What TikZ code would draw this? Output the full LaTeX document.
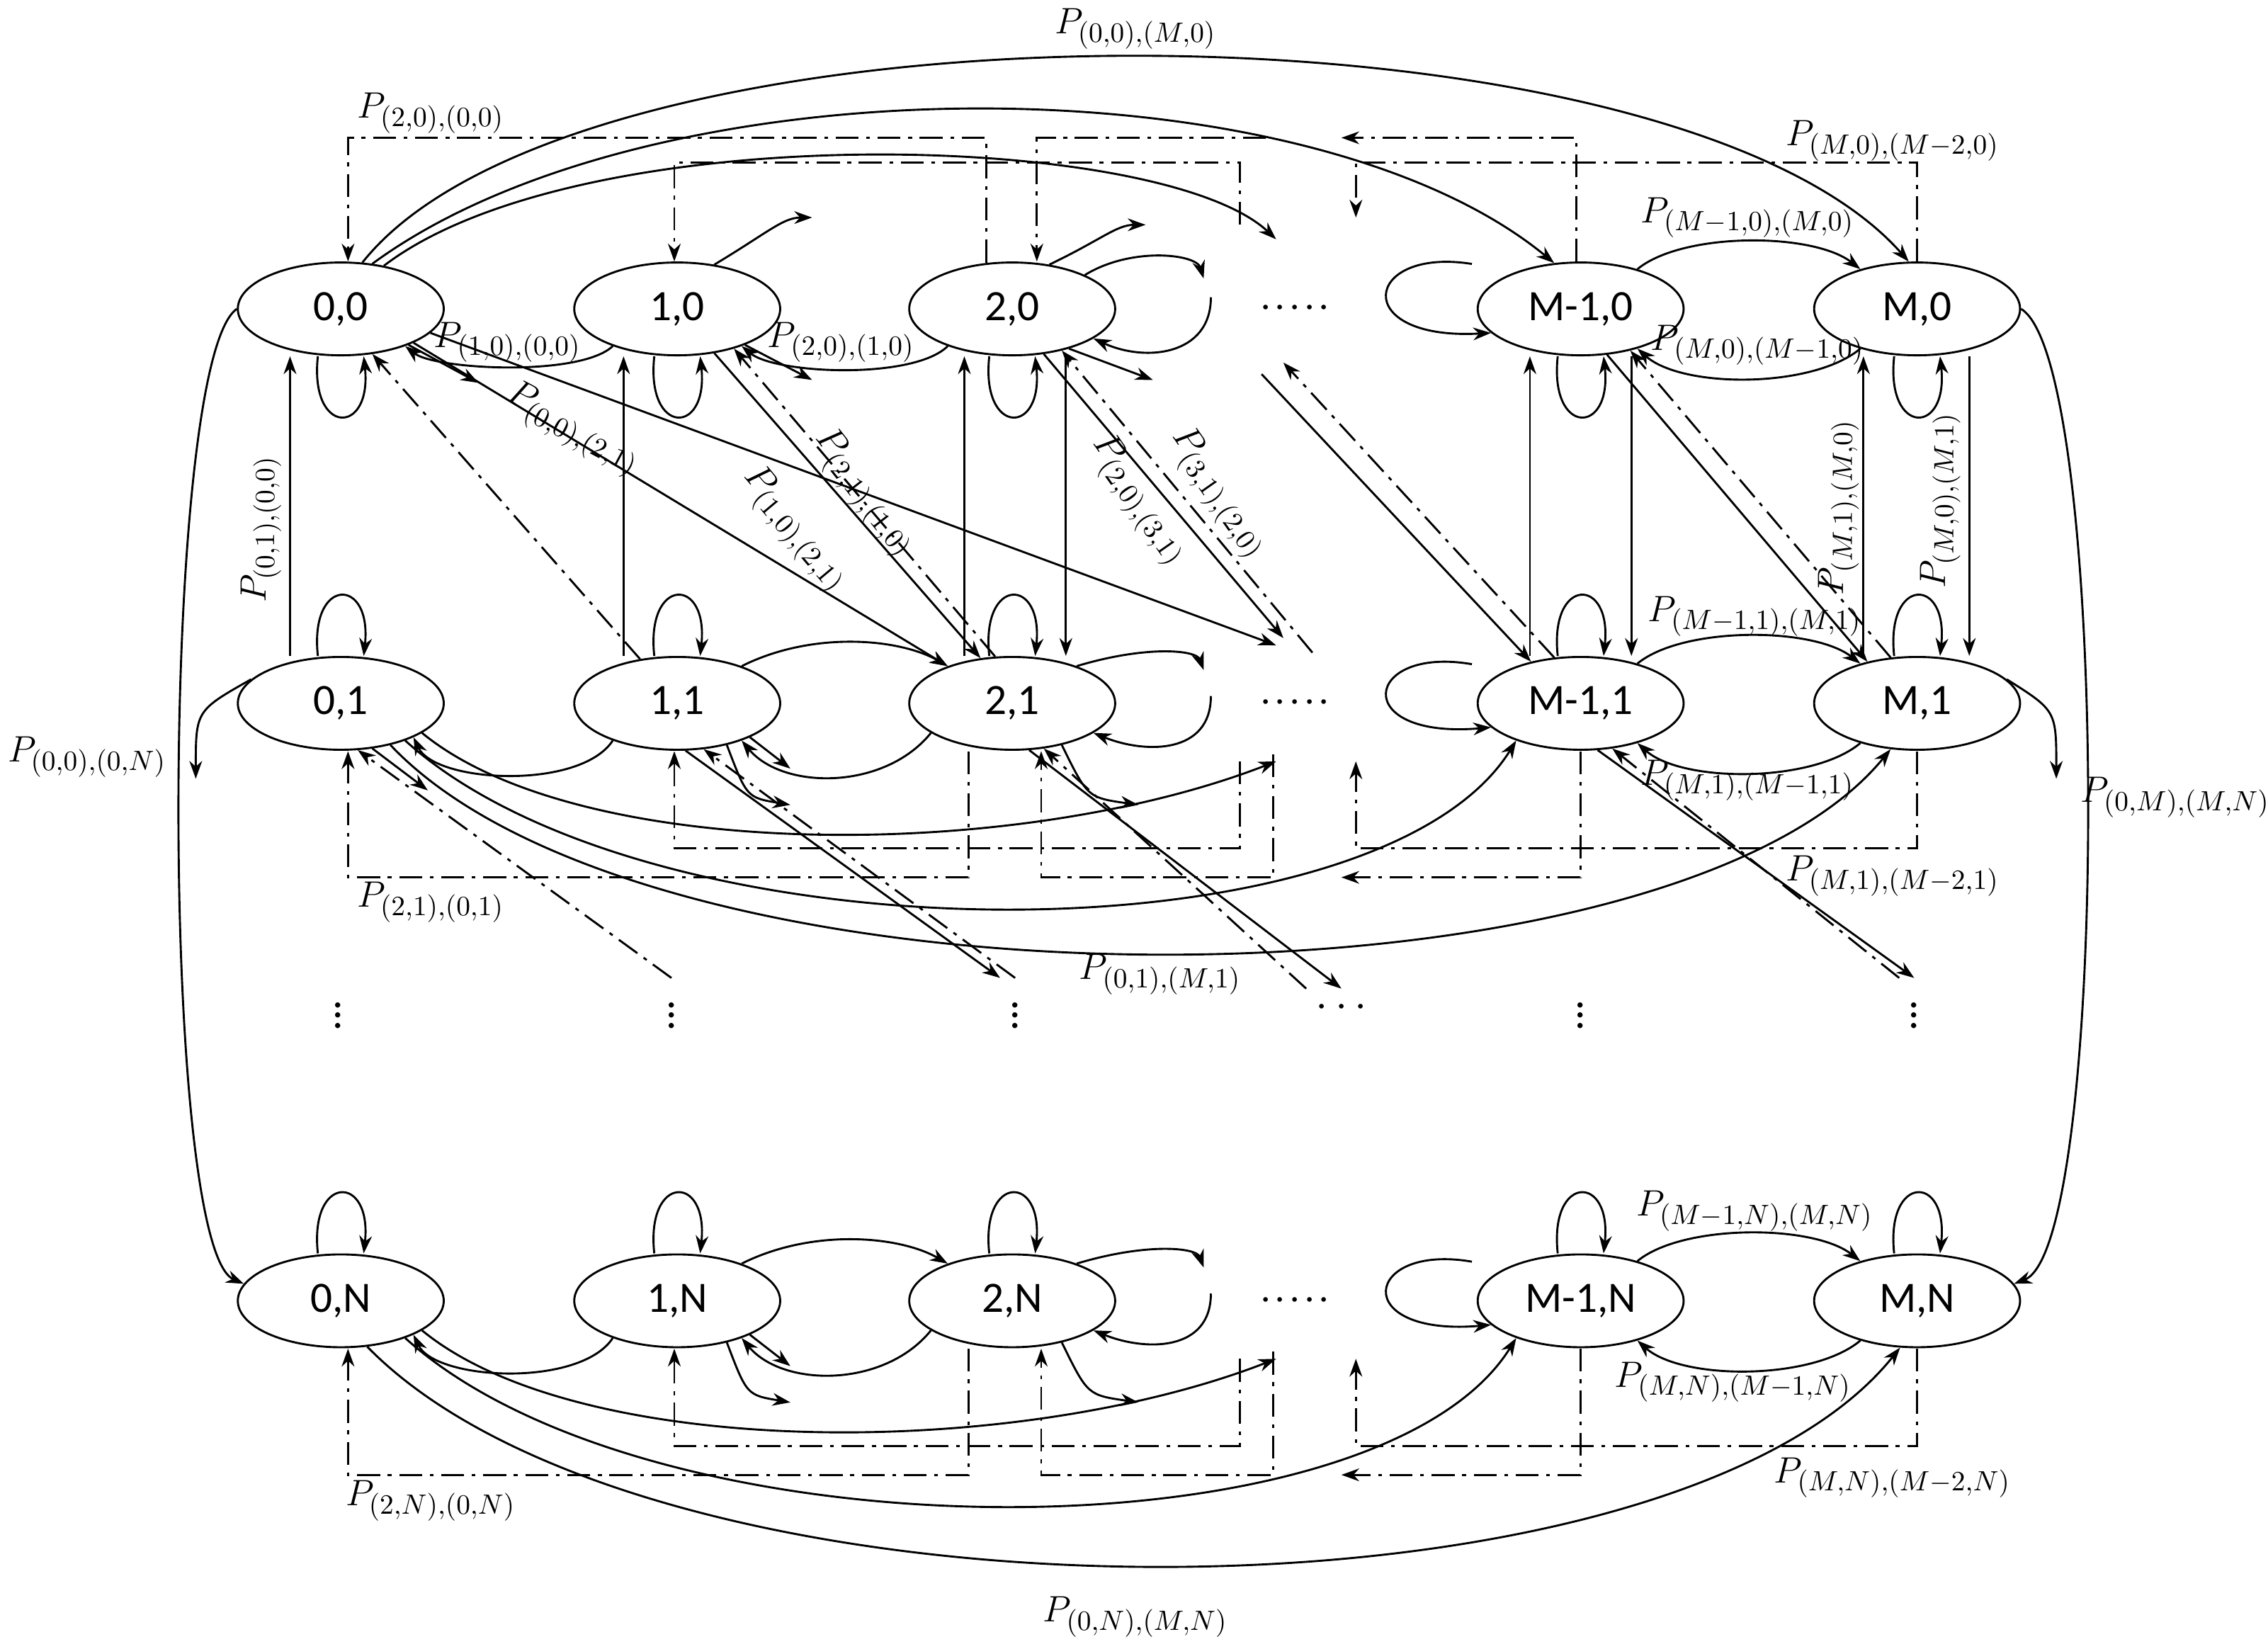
\documentclass[tikz,border=0pt]{standalone}
\usepackage{fontspec}
\setmainfont{Carlito}
\usetikzlibrary{arrows.meta,shapes.geometric}
\begin{document}
\begin{tikzpicture}[x=0.2mm,y=-0.2mm,>={Stealth[length=7pt,width=5pt]},line width=0.8pt,
 st/.style={draw,ellipse,minimum width=28.4mm,minimum height=12.8mm,inner sep=0pt,font=\fontsize{17}{19}\selectfont},
 dd/.style={dash pattern=on 9pt off 3pt on 1.5pt off 3pt},
 lb/.style={font=\fontsize{15}{17}\selectfont,inner sep=1pt},
 dt/.style={font=\fontsize{17}{19}\selectfont}]
\useasboundingbox (0,0) rectangle (1564,1137);
% nodes
\foreach \r/\y in {0/213,1/485,N/897}{
 \node[st] (n0\r) at (235,\y) {0,\r};
 \node[st] (n1\r) at (467,\y) {1,\r};
 \node[st] (n2\r) at (698,\y) {2,\r};
 \node[st] (nA\r) at (1090,\y) {M-1,\r};
 \node[st] (nB\r) at (1322,\y) {M,\r};
 \node[dt] (hd\r) at (893,\y) {$\cdot\!\cdot\!\cdot\!\cdot\!\cdot$};
}
\foreach \x/\n in {233/a,463/b,700/c,1090/d,1320/e}{\node[dt] (vd\n) at (\x,695) {$\vdots$};}
\node[dt] (vdf) at (925,695) {$\cdots$};
% self loops
\foreach \n in {n00,n10,n20,nA0,nB0}{
 \draw[->] ([xshift=-9pt]\n.south) .. controls +(-6,55) and +(6,55) .. ([xshift=9pt]\n.south);}
\foreach \n in {n01,n11,n21,nA1,nB1,n0N,n1N,n2N,nAN,nBN}{
 \draw[->] ([xshift=-9pt]\n.north) .. controls +(-6,-55) and +(6,-55) .. ([xshift=9pt]\n.north);}
% big arcs
\draw[->] (n00.65) .. controls (400,-8) and (1150,-8) .. (nB0.100);
\node[lb] (l1) at (783,20) {$P_{(0,0),(M,0)}$};
\draw[->] (n00.55) .. controls (450,40) and (900,40) .. (nA0.120);
\coordinate (t1) at (880,165);
\draw[->] (n00.45) .. controls (400,80) and (800,90) .. (t1);
\draw[->] (n00.180) .. controls (110,250) and (110,860) .. (n0N.170);
\node[lb] (l2) at (60,522) {$P_{(0,0),(0,N)}$};
\draw[->] (nB0.0) .. controls (1455,250) and (1455,860) .. (nBN.10);
\node[lb] (l3) at (1500,550) {$P_{(0,M),(M,N)}$};
\draw[->] (n0N.-60) .. controls (450,1130) and (1150,1130) .. (nBN.-110);
\node[lb] (l4) at (783,1115) {$P_{(0,N),(M,N)}$};
% row 0 neighbour arcs
\draw[->] (n10.-150) .. controls (400,260) and (300,255) .. (n00.-30);
\node[lb] (l5) at (350,236) {$P_{(1,0),(0,0)}$};
\draw[->] (n20.-150) .. controls (630,262) and (535,258) .. (n10.-30);
\node[lb] (l6) at (580,236) {$P_{(2,0),(1,0)}$};
\draw[->] (nA0.35) .. controls (1160,160) and (1250,160) .. (nB0.145);
\node[lb] (l7) at (1205,150) {$P_{(M-1,0),(M,0)}$};
\draw[->] (nB0.-145) .. controls (1250,268) and (1160,268) .. (nA0.-35);
\node[lb] (l8) at (1212,238) {$P_{(M,0),(M-1,0)}$};
\coordinate (a1) at (330,264); \draw[->] (n00.-28) -- (a1);
\coordinate (a2) at (560,262); \draw[->] (n10.-28) -- (a2);
\coordinate (a3) at (560,150); \draw[->] (n10.50) .. controls (530,160) and (540,150) .. (a3);
\coordinate (a4) at (790,155); \draw[->] (n20.50) .. controls (760,165) and (770,155) .. (a4);
\coordinate (a5) at (830,192); \draw[->] (n20.25) .. controls (780,170) and (825,175) .. (a5);
\coordinate (a6) at (835,205); \draw[->] (a6) .. controls (835,245) and (790,250) .. (n20.-20);
\coordinate (a7) at (795,262); \draw[->] (n20.-35) -- (a7);
\coordinate (a8) at (1015,182); \draw[->] (a8) .. controls (940,170) and (930,235) .. (nA0.-165);
% row 0 dash-dot
\draw[dd,->] (680,181) -- (680,95) -- (240,95) -- (n00.north -| 240,0);
\node[lb] (l9) at (297,78) {$P_{(2,0),(0,0)}$};
\draw[dd,->] (855,155) -- (855,112) -- (465,112) -- (n10.north -| 465,0);
\draw[dd,->] (873,95) -- (715,95) -- (n20.north -| 715,0);
\coordinate (d1) at (925,95); \draw[dd,->] (nA0.north -| 1087,0) -- (1087,95) -- (d1);
\coordinate (d2) at (935,150); \draw[dd,->] (nB0.north) -- (1322,112) -- (935,112) -- (d2);
\node[lb] (l10) at (1305,97) {$P_{(M,0),(M-2,0)}$};
% row0-row1 verticals
\draw[->] (n01.north -| 200,0) -- (n00.south -| 200,0);
\node[lb,rotate=90] (l11) at (180,365) {$P_{(0,1),(0,0)}$};
\draw[->] (n11.north -| 430,0) -- (n10.south -| 430,0);
\draw[->] (n21.north -| 665,0) -- (n20.south -| 665,0);
\draw[->] (n20.south -| 735,0) -- (n21.north -| 735,0);
\draw[->] (nA1.north -| 1055,0) -- (nA0.south -| 1055,0);
\draw[->] (nA0.south -| 1125,0) -- (nA1.north -| 1125,0);
\draw[->] (nB1.north -| 1285,0) -- (nB0.south -| 1285,0);
\node[lb,rotate=90] (l12) at (1268,350) {$P_{(M,1),(M,0)}$};
\draw[->] (nB0.south -| 1358,0) -- (nB1.north -| 1358,0);
\node[lb,rotate=90] (l13) at (1338,345) {$P_{(M,0),(M,1)}$};
% row0-row1 diagonals
\draw[->] (n00.-25) -- (n21.150);
\node[lb,rotate=-28] (l14) at (395,296) {$P_{(0,0),(2,1)}$};
\coordinate (t2) at (880,445); \draw[->] (n00.-15) -- (t2);
\draw[dd,->] (n11.130) -- (n00.-55);
\draw[->] (n10.-50) -- (n21.125);
\node[lb,rotate=-50] (l15) at (548,365) {$P_{(1,0),(2,1)}$};
\draw[dd,->] (n21.110) -- (n10.-35);
\node[lb,rotate=-52] (l16) at (596,340) {$P_{(2,1),(1,0)}$};
\coordinate (t3) at (905,450); \draw[dd,->] (t3) -- (n20.-40);
\coordinate (t4) at (885,440); \draw[->] (n20.-55) -- (t4);
\node[lb,rotate=-55] (l17) at (785,345) {$P_{(2,0),(3,1)}$};
\node[lb,rotate=-55] (l18) at (840,340) {$P_{(3,1),(2,0)}$};
\coordinate (t5) at (870,258); \draw[->] (t5) -- (nA1.140);
\coordinate (t6) at (885,250); \draw[dd,->] (nA1.120) -- (t6);
\draw[->] (nA0.-60) -- (nB1.140);
\draw[dd,->] (nB1.120) -- (nA0.-40);
% rows 1 and N shared structure
\foreach \r/\o in {1/0,N/412}{
 \draw[->] (n1\r.-150) .. controls (400,545+\o) and (300,540+\o) .. (n0\r.-25);
 \draw[->] (n1\r.30) .. controls (560,435+\o) and (620,440+\o) .. (n2\r.150);
 \draw[->] (n2\r.-160) .. controls (610,545+\o) and (540,545+\o) .. (n1\r.-30);
 \draw[->] (nA\r.35) .. controls (1160,432+\o) and (1250,432+\o) .. (nB\r.145);
 \draw[->] (nB\r.-145) .. controls (1250,540+\o) and (1160,540+\o) .. (nA\r.-35);
 \draw[->] (n0\r.-30) .. controls (450,665+\o) and (950,665+\o) .. (nA\r.-150);
 \coordinate (s1\r) at (880,525+\o);
 \draw[->] (n0\r.-20) .. controls (400,595+\o) and (700,595+\o) .. (s1\r);
 \coordinate (s2\r) at (545,555+\o); \draw[->] (n1\r.-40) .. controls (515,550+\o) .. (s2\r);
 \coordinate (s3\r) at (545,530+\o); \draw[->] (n1\r.-25) -- (s3\r);
 \coordinate (s4\r) at (785,555+\o); \draw[->] (n2\r.-40) .. controls (750,550+\o) .. (s4\r);
 \coordinate (s5\r) at (830,462+\o); \draw[->] (n2\r.30) .. controls (790,445+\o) and (825,448+\o) .. (s5\r);
 \coordinate (s6\r) at (835,480+\o); \draw[->] (s6\r) .. controls (835,520+\o) and (790,520+\o) .. (n2\r.-20);
 \coordinate (s7\r) at (1015,458+\o); \draw[->] (s7\r) .. controls (940,445+\o) and (930,510+\o) .. (nA\r.-165);
 \draw[dd,->] (668,518+\o) -- (668,605+\o) -- (240,605+\o) -- (240,518+\o);
 \draw[dd,->] (855,525+\o) -- (855,585+\o) -- (465,585+\o) -- (465,518+\o);
 \draw[dd,->] (878,520+\o) -- (878,605+\o) -- (718,605+\o) -- (718,518+\o);
 \coordinate (d3\r) at (925,605+\o); \draw[dd,->] (1090,518+\o) -- (1090,605+\o) -- (d3\r);
 \coordinate (d4\r) at (935,525+\o); \draw[dd,->] (1322,518+\o) -- (1322,585+\o) -- (935,585+\o) -- (d4\r);
}
\draw[->] (n01.-40) .. controls (450,705) and (1150,705) .. (nB1.-120);
\node[lb] (l19) at (297,622) {$P_{(2,1),(0,1)}$};
\node[lb] (l20) at (800,672) {$P_{(0,1),(M,1)}$};
\node[lb] (l21) at (1210,425) {$P_{(M-1,1),(M,1)}$};
\node[lb] (l22) at (1205,538) {$P_{(M,1),(M-1,1)}$};
\node[lb] (l23) at (1305,604) {$P_{(M,1),(M-2,1)}$};
\node[lb] (l24) at (297,1035) {$P_{(2,N),(0,N)}$};
\node[lb] (l25) at (1210,835) {$P_{(M-1,N),(M,N)}$};
\node[lb] (l26) at (1195,953) {$P_{(M,N),(M-1,N)}$};
\node[lb] (l27) at (1305,1019) {$P_{(M,N),(M-2,N)}$};
% row 1 side hooks
\coordinate (h1) at (135,537); \draw[->] (n01.165) .. controls (135,490) .. (h1);
\coordinate (h2) at (1418,537); \draw[->] (nB1.15) .. controls (1418,490) .. (h2);
% row1 down diagonals
\draw[dd,->] (vdb.north) -- (n01.-70);
\coordinate (h3) at (295,545); \draw[->] (n01.-55) -- (h3);
\draw[->] (n11.-80) -- (vdc.north west);
\draw[dd,->] (vdc.north) -- (n11.-60);
\draw[->] (n21.-70) -- (vdf.north);
\draw[dd,->] (vdf.north west) -- (n21.-55);
\draw[->] (nA1.-70) -- (vde.north);
\draw[dd,->] (vde.north west) -- (nA1.-55);
\end{tikzpicture}
\end{document}
